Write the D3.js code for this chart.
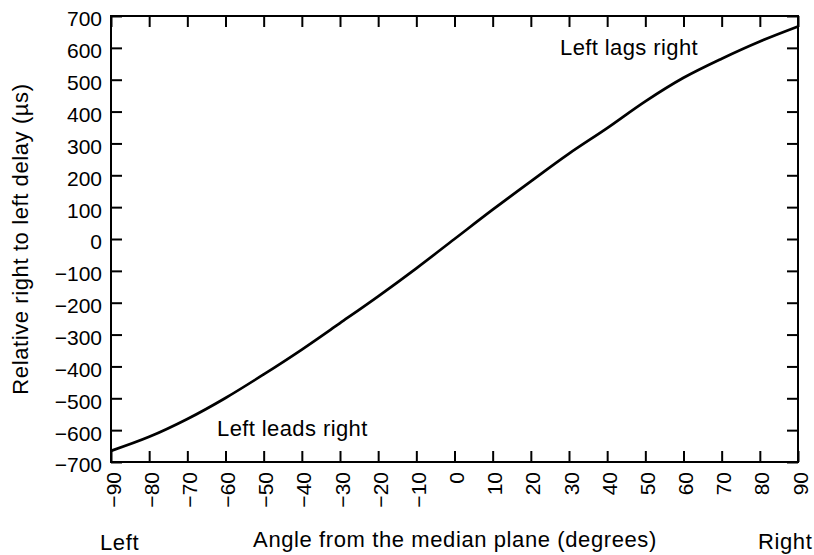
<!DOCTYPE html>
<html>
<head>
<meta charset="utf-8">
<script src="https://cdn.jsdelivr.net/npm/d3@7"></script>
<style>
  html, body { margin: 0; padding: 0; background: #fff; }
  svg { display: block; font-family: "Liberation Sans", Arial, sans-serif; }
</style>
</head>
<body>
<svg id="chart" width="814" height="555"></svg>
<script>
// Azimuth angle of the source (degrees) and interaural delay (µs)
const angles = [-90, -80, -70, -60, -50, -40, -30, -20, -10, 0, 10, 20, 30, 40, 50, 60, 70, 80, 90];
const delays = [-665, -621, -565, -499, -425, -347, -264, -180, -92, 0, 92, 181, 268, 348, 432, 506, 566, 620, 667];

const xTicks = [-90, -80, -70, -60, -50, -40, -30, -20, -10, 0, 10, 20, 30, 40, 50, 60, 70, 80, 90];
const yTicks = [-700, -600, -500, -400, -300, -200, -100, 0, 100, 200, 300, 400, 500, 600, 700];

const box = { left: 111, right: 798, top: 16, bottom: 462 };
const svg = d3.select("#chart");

const x = d3.scaleLinear().domain([-90, 90]).range([box.left, box.right]);
const y = d3.scaleLinear().domain([-700, 700]).range([box.bottom, box.top]);

const fmt = d => (d < 0 ? "\u2212" + Math.abs(d) : String(d));
const tickLen = 11;

// Left axis with labels, ticks pointing inward
const gLeft = svg.append("g")
  .attr("transform", `translate(${box.left},0)`)
  .call(d3.axisLeft(y).tickValues(yTicks).tickFormat(fmt)
    .tickSizeInner(-tickLen).tickSizeOuter(0).tickPadding(9));
gLeft.selectAll("text").attr("font-size", 21).attr("dy", "0.47em")
  .attr("fill", "#000").attr("font-family", "Liberation Sans, Arial, sans-serif");

// Right axis, ticks only
svg.append("g")
  .attr("transform", `translate(${box.right},0)`)
  .call(d3.axisRight(y).tickValues(yTicks).tickFormat("")
    .tickSizeInner(-tickLen).tickSizeOuter(0));

// Bottom axis with rotated labels
const gBottom = svg.append("g")
  .attr("transform", `translate(0,${box.bottom})`)
  .call(d3.axisBottom(x).tickValues(xTicks).tickFormat(fmt)
    .tickSizeInner(-tickLen).tickSizeOuter(0).tickPadding(10));
gBottom.selectAll("text")
  .attr("font-size", 21)
  .attr("fill", "#000")
  .attr("font-family", "Liberation Sans, Arial, sans-serif")
  .attr("text-anchor", "end")
  .attr("x", -10)
  .attr("y", 0)
  .attr("dy", "0.43em")
  .attr("transform", "rotate(-90)");

// Top axis, ticks only
svg.append("g")
  .attr("transform", `translate(0,${box.top})`)
  .call(d3.axisTop(x).tickValues(xTicks).tickFormat("")
    .tickSizeInner(-tickLen).tickSizeOuter(0));

svg.selectAll(".domain").remove();
svg.selectAll(".tick line").attr("stroke", "#000").attr("stroke-width", 2);

// Frame
svg.append("rect")
  .attr("x", box.left).attr("y", box.top)
  .attr("width", box.right - box.left).attr("height", box.bottom - box.top)
  .attr("fill", "none").attr("stroke", "#000").attr("stroke-width", 2);

// Delay curve
const pts = angles.map((a, i) => [a, delays[i]]);
svg.append("path")
  .datum(pts)
  .attr("fill", "none")
  .attr("stroke", "#000")
  .attr("stroke-width", 2.7)
  .attr("stroke-linejoin", "round")
  .attr("d", d3.line().x(d => x(d[0])).y(d => y(d[1])).curve(d3.curveCatmullRom));

// Annotations
const txt = (s, px, py, size, ls, anchor) => svg.append("text")
  .attr("x", px).attr("y", py)
  .attr("font-size", size)
  .attr("letter-spacing", ls)
  .attr("text-anchor", anchor || "start")
  .attr("fill", "#000")
  .text(s);

txt("Left lags right", 560, 55, 22, 0.4);
txt("Left leads right", 217, 436, 22, 0.4);

// Axis titles
txt("Angle from the median plane (degrees)", 455, 547, 22, 0.6, "middle");
txt("Left", 100, 550, 22, 0.6);
txt("Right", 758, 549, 22, 0.6);

svg.append("text")
  .attr("transform", `translate(28,239) rotate(-90)`)
  .attr("text-anchor", "middle")
  .attr("font-size", 22)
  .attr("letter-spacing", 0.6)
  .attr("fill", "#000")
  .text("Relative right to left delay (\u00b5s)");
</script>
</body>
</html>
